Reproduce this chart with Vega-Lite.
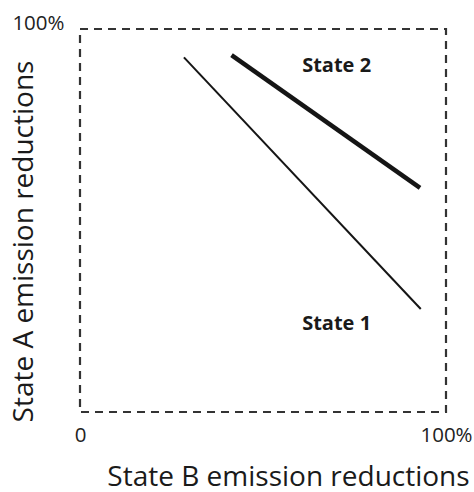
{
  "$schema": "https://vega.github.io/schema/vega-lite/v6.json",
  "width": 366,
  "height": 383,
  "autosize": {"type": "none"},
  "padding": {"left": 80, "top": 29, "right": 28, "bottom": 80},
  "background": "white",
  "config": {
    "view": {"stroke": "#333333", "strokeWidth": 2.2, "strokeDash": [8, 6]},
    "font": "Open Sans"
  },
  "layer": [
    {
      "data": {
        "values": [
          {"state": "State 1", "b": 28.4, "a": 92.6},
          {"state": "State 1", "b": 93.1, "a": 26.9},
          {"state": "State 2", "b": 41.4, "a": 93.2},
          {"state": "State 2", "b": 92.9, "a": 58.5}
        ]
      },
      "mark": {"type": "line", "color": "#151515", "strokeCap": "butt"},
      "encoding": {
        "x": {
          "field": "b",
          "type": "quantitative",
          "scale": {"domain": [0, 100], "nice": false, "zero": false},
          "axis": {
            "values": [0, 100],
            "labelExpr": "datum.value == 0 ? '0' : '100%'",
            "grid": false,
            "domain": false,
            "ticks": false,
            "labelFlush": false,
            "labelFont": "Open Sans",
            "labelFontSize": 20.5,
            "labelColor": "#222222",
            "labelBaseline": "top",
            "labelPadding": 13,
            "title": "State B emission reductions",
            "titleFont": "Open Sans",
            "titleFontSize": 28,
            "titleFontWeight": "normal",
            "titleColor": "#1a1a1a",
            "titleAlign": "center",
            "titleBaseline": "alphabetic",
            "titleX": 208,
            "titleY": 73
          }
        },
        "y": {
          "field": "a",
          "type": "quantitative",
          "scale": {"domain": [0, 100], "nice": false, "zero": false},
          "axis": {
            "values": [100],
            "labelExpr": "'100%'",
            "grid": false,
            "domain": false,
            "ticks": false,
            "labelFont": "Open Sans",
            "labelFontSize": 20.5,
            "labelColor": "#222222",
            "labelBaseline": "alphabetic",
            "labelPadding": 16,
            "title": "State A emission reductions",
            "titleFont": "Open Sans",
            "titleFontSize": 28,
            "titleFontWeight": "normal",
            "titleColor": "#1a1a1a",
            "titleAngle": -90,
            "titleAlign": "center",
            "titleBaseline": "alphabetic",
            "titleX": -48,
            "titleY": 212
          }
        },
        "detail": {"field": "state"},
        "strokeWidth": {
          "field": "state",
          "type": "nominal",
          "scale": {"domain": ["State 1", "State 2"], "range": [2, 4.5]},
          "legend": null
        }
      }
    },
    {
      "data": {
        "values": [
          {"label": "State 2", "b": 60.7, "a": 88.8},
          {"label": "State 1", "b": 60.7, "a": 21.4}
        ]
      },
      "mark": {
        "type": "text",
        "align": "left",
        "baseline": "alphabetic",
        "font": "Open Sans",
        "fontSize": 20,
        "fontWeight": "bold",
        "color": "#1a1a1a"
      },
      "encoding": {
        "x": {"field": "b", "type": "quantitative"},
        "y": {"field": "a", "type": "quantitative"},
        "text": {"field": "label"}
      }
    }
  ]
}
